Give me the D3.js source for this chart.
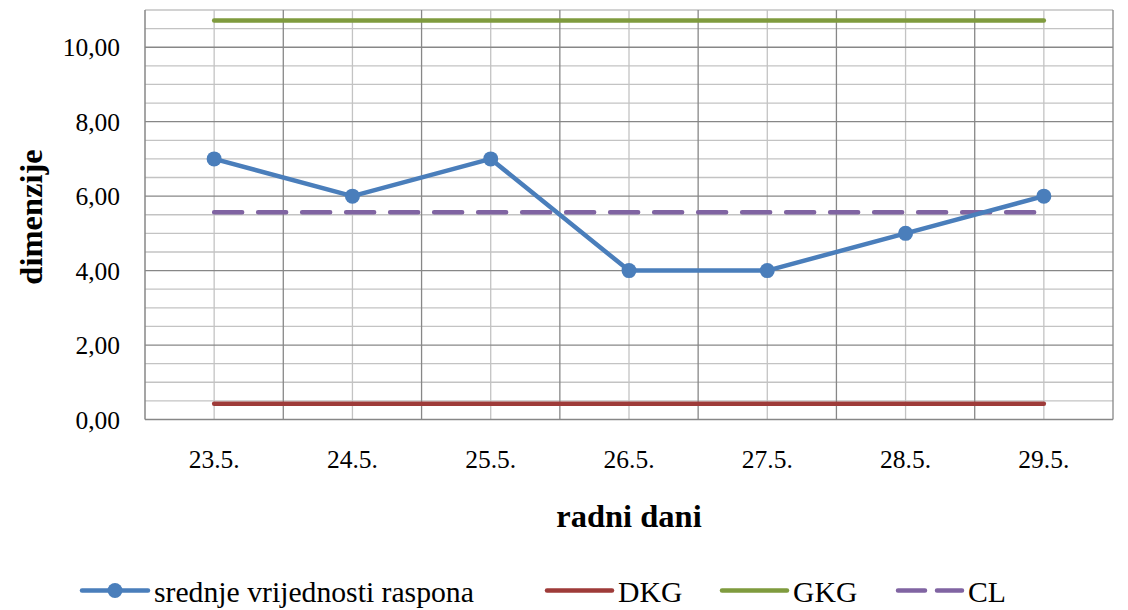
<!DOCTYPE html>
<html>
<head>
<meta charset="utf-8">
<script src="https://cdn.jsdelivr.net/npm/d3@7"></script>
<style>
  html, body { margin: 0; padding: 0; background: #fff; }
  svg { display: block; }
  text { font-family: "Liberation Serif", "Times New Roman", serif; fill: #000; }
</style>
</head>
<body>
<svg id="chart" width="1128" height="610"></svg>
<script>
// Working days (x categories)
const categories = ["23.5.", "24.5.", "25.5.", "26.5.", "27.5.", "28.5.", "29.5."];
// Mean range per day
const rangeMeans = [7, 6, 7, 4, 4, 5, 6];
// Control limits: lower (DKG), upper (GKG), centre line (CL)
const dkgValues = [0.42, 0.42, 0.42, 0.42, 0.42, 0.42, 0.42];
const gkgValues = [10.72, 10.72, 10.72, 10.72, 10.72, 10.72, 10.72];
const clValues = [5.57, 5.57, 5.57, 5.57, 5.57, 5.57, 5.57];
// Y axis ticks
const yTicks = [0, 2, 4, 6, 8, 10];
const yMax = 11;

const svg = d3.select("#chart");
const plot = { left: 145, right: 1113, top: 10, bottom: 419.5 };

const x = d3.scaleBand().domain(categories).range([plot.left, plot.right]);
const cx = d => x(d) + x.bandwidth() / 2;
const y = d3.scaleLinear().domain([0, yMax]).range([plot.bottom, plot.top]);

const majorColor = "#878787";
const minorColor = "#c3c3c3";
const tickFont = "25.5px";
const titleFont = "32.5px";
const legendFont = "29.7px";

// Minor horizontal gridlines every 0.5
const minorY = d3.range(0, yMax + 0.001, 0.5).filter(v => v % 2 !== 0);
svg.append("g").selectAll("line").data(minorY).join("line")
  .attr("x1", plot.left).attr("x2", plot.right)
  .attr("y1", d => y(d)).attr("y2", d => y(d))
  .attr("stroke", minorColor).attr("stroke-width", 1.3);

// Minor vertical gridlines at category centres
svg.append("g").selectAll("line").data(categories).join("line")
  .attr("x1", d => cx(d)).attr("x2", d => cx(d))
  .attr("y1", plot.top).attr("y2", plot.bottom)
  .attr("stroke", minorColor).attr("stroke-width", 1.3);

// Major horizontal gridlines
svg.append("g").selectAll("line").data(yTicks.filter(v => v > 0)).join("line")
  .attr("x1", plot.left).attr("x2", plot.right)
  .attr("y1", d => y(d)).attr("y2", d => y(d))
  .attr("stroke", majorColor).attr("stroke-width", 1.3);

// Major vertical gridlines at category boundaries
const bounds = categories.map(c => x(c)).slice(1).concat([plot.right]);
svg.append("g").selectAll("line").data(bounds).join("line")
  .attr("x1", d => d).attr("x2", d => d)
  .attr("y1", plot.top).attr("y2", plot.bottom)
  .attr("stroke", majorColor).attr("stroke-width", 1.3);

// Axis lines
svg.append("line").attr("x1", plot.left).attr("x2", plot.left)
  .attr("y1", plot.top).attr("y2", plot.bottom)
  .attr("stroke", majorColor).attr("stroke-width", 1.5);
svg.append("line").attr("x1", plot.left).attr("x2", plot.right)
  .attr("y1", plot.bottom).attr("y2", plot.bottom)
  .attr("stroke", majorColor).attr("stroke-width", 1.5);

// Y axis labels
const fmt = v => d3.format(".2f")(v).replace(".", ",");
const yAxis = svg.append("g").attr("transform", `translate(${plot.left},0)`)
  .call(d3.axisLeft(y).tickValues(yTicks).tickFormat(fmt).tickSize(0).tickPadding(25));
yAxis.select(".domain").remove();
yAxis.selectAll("text").style("font-family", "Liberation Serif").style("font-size", tickFont)
  .attr("fill", "#000").attr("dy", "0.34em");

// X axis labels
const xAxis = svg.append("g").attr("transform", `translate(0,${plot.bottom})`)
  .call(d3.axisBottom(x).tickSize(0).tickPadding(0));
xAxis.select(".domain").remove();
xAxis.selectAll("text").style("font-family", "Liberation Serif").style("font-size", tickFont)
  .attr("fill", "#000").attr("y", 48.5).attr("dy", 0);

// Axis titles
svg.append("text").attr("transform", "translate(42,217) rotate(-90)")
  .attr("text-anchor", "middle").style("font-size", titleFont).style("font-weight", "bold")
  .text("dimenzije");
svg.append("text").attr("x", 629).attr("y", 527)
  .attr("text-anchor", "middle").style("font-size", titleFont).style("font-weight", "bold")
  .text("radni dani");

// Series
const lineGen = vals => d3.line().x((d, i) => cx(categories[i])).y(d => y(d))(vals);

const seriesDefs = [
  { name: "DKG", values: dkgValues, color: "#9e3b39", dash: null },
  { name: "GKG", values: gkgValues, color: "#7f9b3e", dash: null },
  { name: "CL", values: clValues, color: "#8064a2", dash: "28,16" }
];
seriesDefs.forEach(s => {
  svg.append("path").attr("d", lineGen(s.values))
    .attr("fill", "none").attr("stroke", s.color).attr("stroke-width", 4.5)
    .attr("stroke-linecap", "round")
    .attr("stroke-dasharray", s.dash);
});

const blue = "#4a7ebb";
svg.append("path").attr("d", lineGen(rangeMeans))
  .attr("fill", "none").attr("stroke", blue).attr("stroke-width", 4.5)
  .attr("stroke-linejoin", "round");
svg.append("g").selectAll("circle").data(rangeMeans).join("circle")
  .attr("cx", (d, i) => cx(categories[i])).attr("cy", d => y(d))
  .attr("r", 7.5).attr("fill", blue);

// Legend
const ly = 590.5;
const legend = svg.append("g");
const items = [
  { label: "srednje vrijednosti raspona", color: blue, x0: 82, x1: 148, tx: 154, marker: true },
  { label: "DKG", color: "#9e3b39", x0: 547, x1: 612, tx: 618 },
  { label: "GKG", color: "#7f9b3e", x0: 722, x1: 787, tx: 793 },
  { label: "CL", color: "#8064a2", x0: 898, x1: 962, tx: 968, dash: "27,12" }
];
items.forEach(it => {
  legend.append("line").attr("x1", it.x0).attr("x2", it.x1).attr("y1", ly).attr("y2", ly)
    .attr("stroke", it.color).attr("stroke-width", 4.5).attr("stroke-linecap", "round")
    .attr("stroke-dasharray", it.dash || null);
  if (it.marker) {
    legend.append("circle").attr("cx", (it.x0 + it.x1) / 2).attr("cy", ly).attr("r", 7.5).attr("fill", it.color);
  }
  legend.append("text").attr("x", it.tx).attr("y", 601.5).style("font-size", legendFont).text(it.label);
});
</script>
</body>
</html>
